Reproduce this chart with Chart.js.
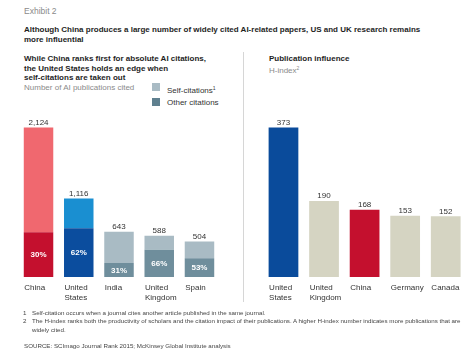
<!DOCTYPE html>
<html><head><meta charset="utf-8">
<script src="https://cdn.jsdelivr.net/npm/chart.js@4/dist/chart.umd.min.js"></script>
<style>
html,body{margin:0;padding:0;background:#fff;}
#wrap{position:relative;width:472px;height:357px;overflow:hidden;font-family:"Liberation Sans",Arial,Helvetica,sans-serif;color:#222;}
.t{position:absolute;white-space:nowrap;}
canvas{position:absolute;}
</style></head><body>
<div id="wrap">
<div class="t" style="left:24px;top:6px;font-size:8.5px;line-height:10px;color:#8a8a8a;">Exhibit 2</div>
<div class="t" style="left:24px;top:25px;font-size:8px;line-height:10px;font-weight:bold;color:#1e1e1e;">Although China produces a large number of widely cited AI-related papers, US and UK research remains<br>more influential</div>
<div class="t" style="left:24px;top:54px;font-size:8px;line-height:9.6px;font-weight:bold;color:#1e1e1e;">While China ranks first for absolute AI citations,<br>the United States holds an edge when<br>self-citations are taken out<br><span style="font-weight:normal;color:#8a8a8a;">Number of AI publications cited</span></div>
<div style="position:absolute;left:152px;top:83px;width:8px;height:8px;background:#a9bbc4;"></div>
<div style="position:absolute;left:152px;top:98px;width:8px;height:8px;background:#5f808f;"></div>
<div class="t" style="left:167px;top:82.5px;font-size:8px;line-height:10px;color:#333;">Self-citations<sup style="font-size:5px;vertical-align:3px;">1</sup></div>
<div class="t" style="left:167px;top:97.5px;font-size:8px;line-height:10px;color:#333;">Other citations</div>
<div class="t" style="left:269px;top:54px;font-size:8px;line-height:9.6px;font-weight:bold;color:#1e1e1e;">Publication influence<br><span style="font-weight:normal;color:#8a8a8a;">H-index<sup style="font-size:5px;vertical-align:3px;">2</sup></span></div>
<div style="position:absolute;left:243px;top:52px;width:1px;height:250px;background:#d6d6d6;"></div>
<canvas id="c1" width="240" height="210" style="left:0;top:100px;"></canvas>
<canvas id="c2" width="232" height="210" style="left:240px;top:100px;"></canvas>
<div class="t" style="left:23px;top:308.75px;font-size:6.2px;line-height:8.5px;color:#444;">1</div>
<div class="t" style="left:32px;top:308.75px;font-size:6.2px;line-height:8.5px;color:#444;">Self-citation occurs when a journal cites another article published in the same journal.</div>
<div class="t" style="left:23px;top:317.25px;font-size:6.2px;line-height:8.5px;color:#444;">2</div>
<div class="t" style="left:32px;top:317.25px;font-size:6.2px;line-height:8.5px;color:#444;">The H-index ranks both the productivity of scholars and the citation impact of their publications. A higher H-index number indicates more publications that are<br>widely cited.</div>
<div class="t" style="left:24px;top:341.75px;font-size:6.2px;line-height:8.5px;color:#444;">SOURCE: SCImago Journal Rank 2015; McKinsey Global Institute analysis</div>
</div>
<script>
// Left chart data
const citeCountries = [["China"],["United","States"],["India"],["United","Kingdom"],["Spain"]];
const citeTotals = [2124, 1116, 643, 588, 504];
const otherPct = [30, 62, 31, 66, 53];
const selfColors = ["#f0686f","#1a8fd1","#a9bbc4","#a9bbc4","#a9bbc4"];
const otherColors = ["#c4102e","#0b4d9e","#6f8e9c","#6f8e9c","#6f8e9c"];

// Right chart data
const hCountries = [["United","States"],["United","Kingdom"],["China"],["Germany"],["Canada"]];
const hIndex = [373, 190, 168, 153, 152];
const hColors = ["#0a4b9b","#d5d4c2","#c4102e","#d5d4c2","#d5d4c2"];

const otherVals = citeTotals.map((t,i)=>t*otherPct[i]/100);
const selfVals = citeTotals.map((t,i)=>t-otherVals[i]);

const FONT = '"Liberation Sans", Arial, Helvetica, sans-serif';

function drawCatLabels(ctx, meta, cats){
  ctx.save();
  ctx.font = '8px ' + FONT;
  ctx.fillStyle = '#333';
  ctx.textAlign = 'left';
  ctx.textBaseline = 'alphabetic';
  meta.data.forEach((bar,i)=>{
    const left = bar.x - bar.width/2;
    cats[i].forEach((line,j)=>{
      ctx.fillText(line, left + 0.5, bar.base + 13 + j*10);
    });
  });
  ctx.restore();
}

const leftPlugin = {
  id:'leftLabels',
  afterDatasetsDraw(chart){
    const ctx = chart.ctx;
    const mOther = chart.getDatasetMeta(0);
    const mSelf = chart.getDatasetMeta(1);
    ctx.save();
    ctx.textAlign = 'center';
    mSelf.data.forEach((bar,i)=>{
      ctx.font = '8px ' + FONT;
      ctx.fillStyle = '#333';
      ctx.textBaseline = 'alphabetic';
      ctx.fillText(citeTotals[i].toLocaleString('en-US'), bar.x, bar.y - 2.5);
      const ob = mOther.data[i];
      ctx.font = 'bold 8px ' + FONT;
      ctx.fillStyle = '#fff';
      ctx.textBaseline = 'middle';
      ctx.fillText(otherPct[i] + '%', ob.x, (ob.y + ob.base)/2 + 0.5);
    });
    ctx.restore();
    drawCatLabels(ctx, mOther, citeCountries);
  }
};

const rightPlugin = {
  id:'rightLabels',
  afterDatasetsDraw(chart){
    const ctx = chart.ctx;
    const m = chart.getDatasetMeta(0);
    ctx.save();
    ctx.textAlign = 'center';
    ctx.font = '8px ' + FONT;
    ctx.fillStyle = '#333';
    m.data.forEach((bar,i)=>{
      ctx.fillText(String(hIndex[i]), bar.x, bar.y - 2.5);
    });
    ctx.restore();
    drawCatLabels(ctx, m, hCountries);
  }
};

new Chart(document.getElementById('c1'), {
  type:'bar',
  data:{
    labels: citeCountries.map(c=>c.join(' ')),
    datasets:[
      {label:'Other citations', data:otherVals, backgroundColor:otherColors, borderWidth:0, categoryPercentage:1, barPercentage:0.733},
      {label:'Self-citations', data:selfVals, backgroundColor:selfColors, borderWidth:0, categoryPercentage:1, barPercentage:0.733}
    ]
  },
  options:{
    responsive:false, animation:false, devicePixelRatio:1,
    layout:{padding:{left:18.4,right:20.4,top:10,bottom:33}},
    plugins:{legend:{display:false}, tooltip:{enabled:false}},
    scales:{
      x:{display:false, stacked:true},
      y:{display:false, stacked:true, min:0, max:2374}
    }
  },
  plugins:[leftPlugin]
});

new Chart(document.getElementById('c2'), {
  type:'bar',
  data:{
    labels: hCountries.map(c=>c.join(' ')),
    datasets:[
      {label:'H-index', data:hIndex, backgroundColor:hColors, borderWidth:0, categoryPercentage:1, barPercentage:0.733}
    ]
  },
  options:{
    responsive:false, animation:false, devicePixelRatio:1,
    layout:{padding:{left:23.2,right:6,top:10,bottom:33}},
    plugins:{legend:{display:false}, tooltip:{enabled:false}},
    scales:{
      x:{display:false},
      y:{display:false, min:0, max:417}
    }
  },
  plugins:[rightPlugin]
});
</script>
</body></html>
